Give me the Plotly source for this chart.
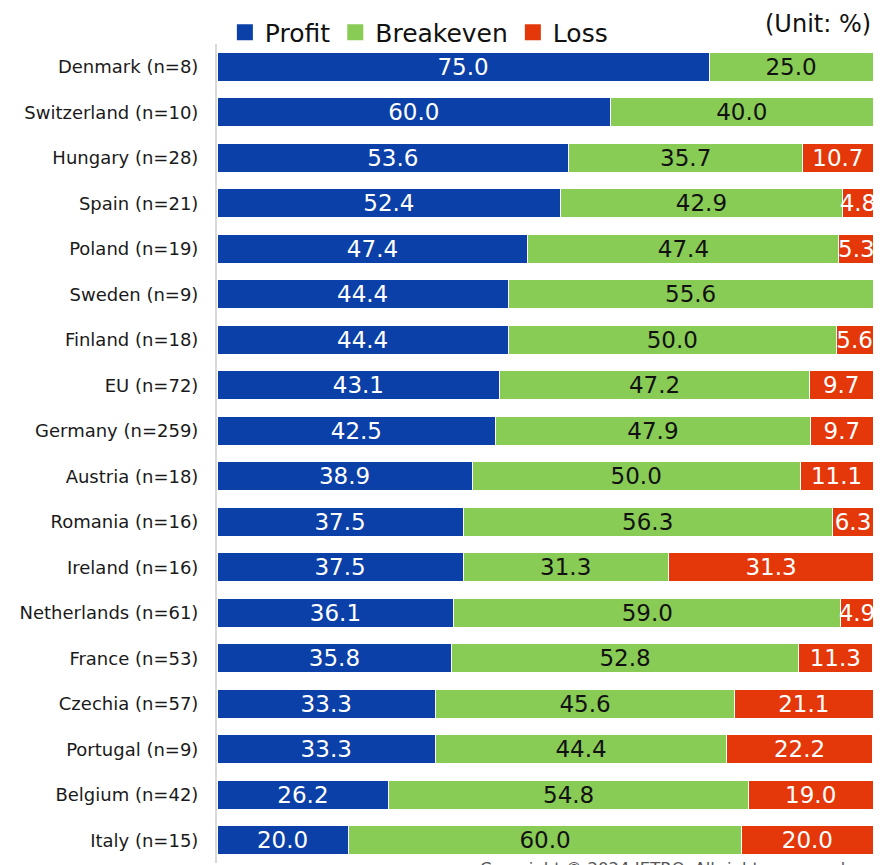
import plotly.graph_objects as go

countries = ["Denmark (n=8)", "Switzerland (n=10)", "Hungary (n=28)", "Spain (n=21)",
             "Poland (n=19)", "Sweden (n=9)", "Finland (n=18)", "EU (n=72)",
             "Germany (n=259)", "Austria (n=18)", "Romania (n=16)", "Ireland (n=16)",
             "Netherlands (n=61)", "France (n=53)", "Czechia (n=57)", "Portugal (n=9)",
             "Belgium (n=42)", "Italy (n=15)"]
profit = [75.0, 60.0, 53.6, 52.4, 47.4, 44.4, 44.4, 43.1, 42.5, 38.9, 37.5, 37.5, 36.1, 35.8, 33.3, 33.3, 26.2, 20.0]
breakeven = [25.0, 40.0, 35.7, 42.9, 47.4, 55.6, 50.0, 47.2, 47.9, 50.0, 56.3, 31.3, 59.0, 52.8, 45.6, 44.4, 54.8, 60.0]
loss = [None, None, 10.7, 4.8, 5.3, None, 5.6, 9.7, 9.7, 11.1, 6.3, 31.3, 4.9, 11.3, 21.1, 22.2, 19.0, 20.0]

series = [
    ("Profit", profit, "#0A40A8", "white"),
    ("Breakeven", breakeven, "#88CB55", "#111111"),
    ("Loss", loss, "#E4380A", "white"),
]

FONT = "DejaVu Sans, Verdana, sans-serif"

fig = go.Figure()
for name, vals, color, tcolor in series:
    fig.add_trace(go.Bar(
        name=name, y=countries, x=vals, orientation="h",
        marker=dict(color=color, line=dict(color="white", width=1)),
        text=["" if v is None else f"{v:.1f}" for v in vals],
        textposition="inside", insidetextanchor="middle",
        textfont=dict(size=23, color=tcolor, family=FONT),
        hoverinfo="skip", showlegend=False, legendgroup=name,
    ))
# legend entries with larger square swatches
for name, vals, color, tcolor in series:
    fig.add_trace(go.Scatter(
        name=name, x=[None], y=[None], mode="markers",
        marker=dict(symbol="square", size=16, color=color),
        legendgroup=name, hoverinfo="skip",
    ))

fig.update_layout(
    barmode="stack",
    width=885, height=865,
    margin=dict(l=217, r=12, t=44, b=2, autoexpand=False),
    bargap=0.36,
    plot_bgcolor="white", paper_bgcolor="white",
    font=dict(family=FONT, color="#111111"),
    uniformtext=dict(minsize=23, mode="show"),
    legend=dict(orientation="h", x=0.012, xanchor="left", y=0.986, yanchor="bottom",
                font=dict(size=25, family=FONT), traceorder="normal",
                itemwidth=30, itemsizing="trace", bgcolor="rgba(0,0,0,0)"),
    xaxis=dict(range=[0, 100], visible=False, fixedrange=True),
    yaxis=dict(autorange="reversed", showline=True, linecolor="#D9D9D9", linewidth=2,
               ticks="", tickfont=dict(size=18, family=FONT, color="#1a1a1a"),
               ticklabelstandoff=13, showgrid=False, automargin=False),
    annotations=[
        dict(text="(Unit: %)", xref="paper", yref="paper", x=1.0, y=1.0,
             xanchor="right", yanchor="bottom", yshift=4, showarrow=False,
             font=dict(size=24, family=FONT, color="#111111")),
        dict(text="Copyright © 2024 JETRO. All rights reserved.", xref="paper", yref="paper",
             x=0.9695, y=0, xanchor="right", yanchor="top", yshift=6, showarrow=False,
             font=dict(size=16.5, family=FONT, color="#555555")),
    ],
)

fig.write_html("out.html", config={"displayModeBar": False},
               post_script="document.body.style.margin='0';")
